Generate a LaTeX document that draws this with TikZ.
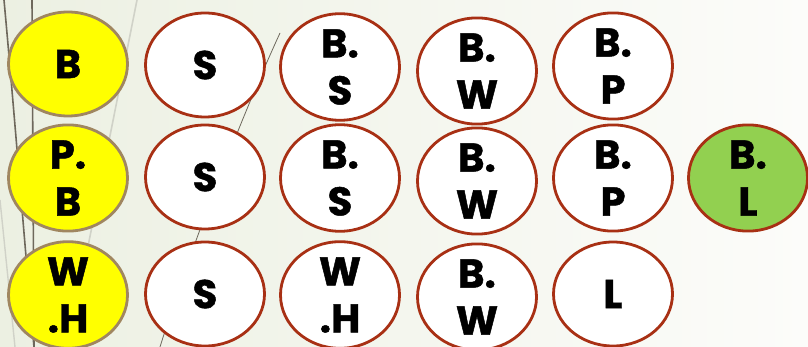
\documentclass[tikz,border=0pt]{standalone}
\usepackage{fontspec}
\setmainfont{Poppins}[BoldFeatures={FakeBold=1.2}]
\usetikzlibrary{shapes.geometric}
\definecolor{rim}{RGB}{168,48,20}
\definecolor{tanrim}{RGB}{160,134,96}
\definecolor{lemon}{RGB}{255,255,0}
\definecolor{leaf}{RGB}{146,208,80}
\definecolor{wisp}{RGB}{110,104,92}
\definecolor{wisplight}{RGB}{208,210,200}
\definecolor{paperleft}{RGB}{236,240,226}
\definecolor{paperright}{RGB}{252,252,250}

\begin{document}
\begin{tikzpicture}[x=1pt,y=-1pt]
\tikzset{cell/.style={ellipse,draw=rim,line width=2.8pt,fill=white,minimum width=119pt,minimum height=104pt,inner sep=0pt,align=center,font=\fontsize{40}{47}\selectfont\bfseries},
  hit/.style={cell,draw=tanrim,fill=lemon},
  goal/.style={cell,fill=leaf}}

\useasboundingbox (0,0) rectangle (808,347);
\fill[left color=paperleft,right color=paperright] (0,0) rectangle (808,347);
\draw[wisplight,line width=1.4pt] (0,200) -- (15,347);
\draw[wisplight,line width=1.6pt] (137,0) -- (68,347);
\draw[wisp,line width=1.6pt] (4,0) .. controls (15,120) and (25,250) .. (34,347);
\draw[wisp,line width=1.6pt] (32,0) -- (34,347);
\draw[wisp,line width=0.8pt] (280,33) .. controls (240,120) and (190,250) .. (160,347);

\path (68,64) node[hit] (b1) {B};
\path (205,65) node[cell] (s1) {S};
\path (340,67) node[cell] (bs1) {B.\\S};
\path (477,71) node[cell] (bw1) {B.\\W};
\path (613,66) node[cell] (bp1) {B.\\P};

\path (68,178) node[hit] (pb2) {P.\\B};
\path (205,177) node[cell] (s2) {S};
\path (340,178) node[cell] (bs2) {B.\\S};
\path (477,181) node[cell] (bw2) {B.\\W};
\path (613,178) node[cell] (bp2) {B.\\P};
\path (748,178) node[goal] (bl2) {B.\\L};

\path (68,295) node[hit] (wh3) {W\\.H};
\path (205,294) node[cell] (s3) {S};
\path (340,295) node[cell] (wh4) {W\\.H};
\path (477,297) node[cell] (bw3) {B.\\W};
\path (613,294) node[cell] (l3) {L};
\end{tikzpicture}
\end{document}
